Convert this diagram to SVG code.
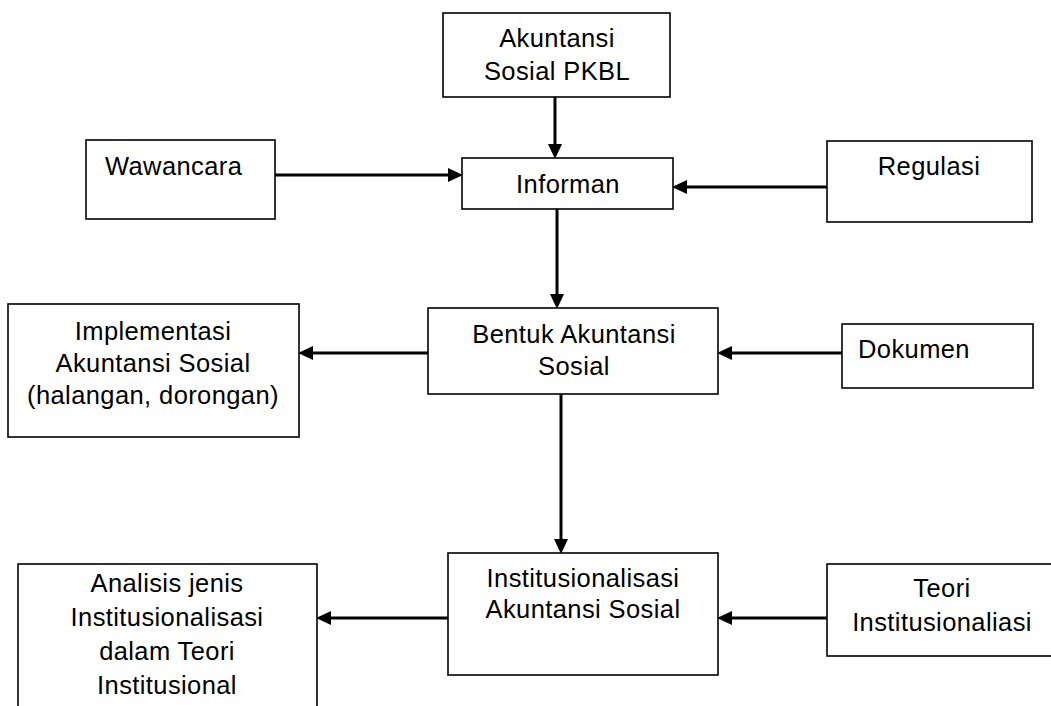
<svg xmlns="http://www.w3.org/2000/svg" width="1051" height="706" viewBox="0 0 1051 706">
<style>
.box{fill:#fff;stroke:#000;stroke-width:1.6}
.t{font-family:"Liberation Sans",Arial,sans-serif;font-size:25.5px;letter-spacing:0.4px;fill:#000}
.c{text-anchor:middle}
.edge{stroke:#000;stroke-width:3;fill:none;marker-end:url(#ah)}
</style>
<defs>
<marker id="ah" markerUnits="userSpaceOnUse" markerWidth="15" markerHeight="14" refX="4" refY="7" orient="auto">
<path d="M0,0 L15,7 L0,14 z" fill="#000"/>
</marker>
</defs>
<rect width="1051" height="706" fill="#fff"/>
<g id="connectors">
<line class="edge" x1="555" y1="97" x2="555" y2="148"/>
<line class="edge" x1="275" y1="175" x2="452" y2="175"/>
<line class="edge" x1="827" y1="187" x2="683" y2="187"/>
<line class="edge" x1="557" y1="209" x2="557" y2="298"/>
<line class="edge" x1="428" y1="353" x2="309" y2="353"/>
<line class="edge" x1="842" y1="353" x2="728" y2="353"/>
<line class="edge" x1="561" y1="394" x2="561" y2="543"/>
<line class="edge" x1="448" y1="618" x2="327" y2="618"/>
<line class="edge" x1="827" y1="618" x2="728" y2="618"/>
</g>
<g id="pkbl">
<rect class="box" x="443" y="13" width="227" height="84"/>
<text class="t c" x="557" y="47">Akuntansi</text>
<text class="t c" x="557" y="80">Sosial PKBL</text>
</g>
<g id="wawancara">
<rect class="box" x="86" y="140" width="189" height="79"/>
<text class="t" x="105" y="175">Wawancara</text>
</g>
<g id="informan">
<rect class="box" x="462" y="158" width="211" height="51"/>
<text class="t c" x="568" y="193">Informan</text>
</g>
<g id="regulasi">
<rect class="box" x="827" y="141" width="205" height="81"/>
<text class="t c" x="929" y="175">Regulasi</text>
</g>
<g id="implementasi">
<rect class="box" x="8" y="304" width="291" height="133"/>
<text class="t c" x="153" y="340">Implementasi</text>
<text class="t c" x="153" y="372">Akuntansi Sosial</text>
<text class="t c" x="153" y="404">(halangan, dorongan)</text>
</g>
<g id="bentuk">
<rect class="box" x="428" y="308" width="290" height="86"/>
<text class="t c" x="574" y="343">Bentuk Akuntansi</text>
<text class="t c" x="574" y="375">Sosial</text>
</g>
<g id="dokumen">
<rect class="box" x="842" y="324" width="191" height="64"/>
<text class="t" x="858" y="358">Dokumen</text>
</g>
<g id="analisis">
<rect class="box" x="18" y="564" width="299" height="160"/>
<text class="t c" x="167" y="592">Analisis jenis</text>
<text class="t c" x="167" y="626">Institusionalisasi</text>
<text class="t c" x="167" y="660">dalam Teori</text>
<text class="t c" x="167" y="694">Institusional</text>
</g>
<g id="institusionalisasi">
<rect class="box" x="448" y="553" width="270" height="122"/>
<text class="t c" x="583" y="587">Institusionalisasi</text>
<text class="t c" x="583" y="618">Akuntansi Sosial</text>
</g>
<g id="teori">
<rect class="box" x="827" y="564" width="240" height="92"/>
<text class="t c" x="942" y="597">Teori</text>
<text class="t c" x="942" y="631">Institusionaliasi</text>
</g>
</svg>
